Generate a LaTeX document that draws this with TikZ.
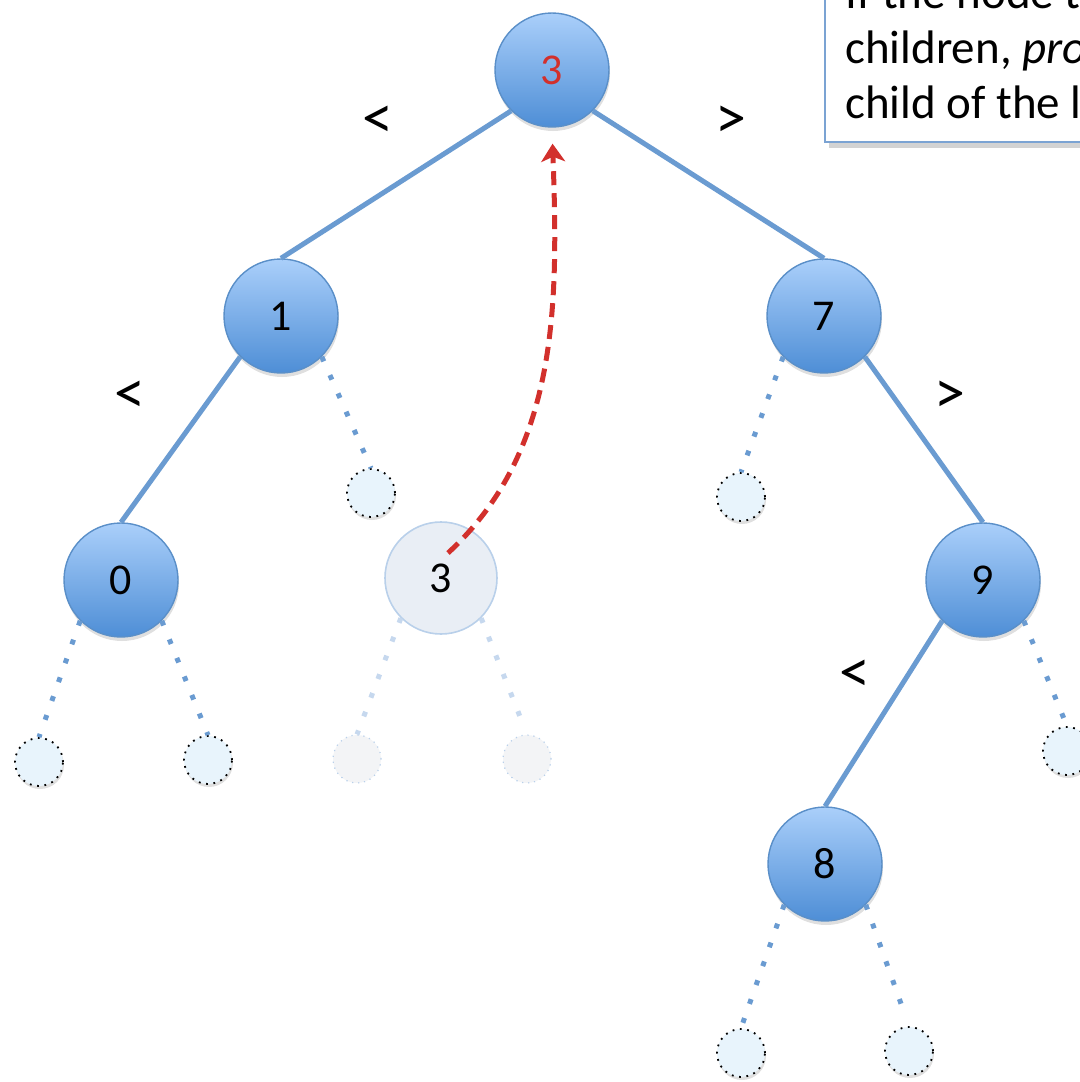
\documentclass[tikz,border=0pt]{standalone}
\usepackage{fontspec}
\setmainfont{Carlito}
\usetikzlibrary{arrows.meta,shadows}
\definecolor{keyline}{HTML}{5A8FC8}
\definecolor{keytop}{HTML}{AACFFA}
\definecolor{keybot}{HTML}{4E8ED6}
\definecolor{branchblue}{HTML}{6A9BD1}
\definecolor{leaffill}{HTML}{E8F4FC}
\definecolor{ghostfill}{HTML}{E9EEF5}
\definecolor{ghostline}{HTML}{B9D0EA}
\definecolor{ghostbranch}{HTML}{C6D8EE}
\definecolor{ghostleaffill}{HTML}{F3F4F6}
\definecolor{moved}{HTML}{D2302C}
\definecolor{noteline}{HTML}{7BA3D3}
\begin{document}
\begin{tikzpicture}[x=0.5pt,y=-0.5pt,
    every node/.style={font=\fontsize{22}{26}\selectfont},
    key/.style={circle,draw=keyline,line width=0.7pt,minimum size=57pt,inner sep=0pt,
      top color=keytop,bottom color=keybot,
      drop shadow={shadow xshift=0.5pt,shadow yshift=-2pt,opacity=0.25}},
    ghost/.style={circle,draw=ghostline,line width=0.8pt,minimum size=56pt,inner sep=0pt,fill=ghostfill},
    leaf/.style={circle,draw=black,line width=0.9pt,dash pattern=on 0.9pt off 2.8pt,
      minimum size=24pt,inner sep=0pt,fill=leaffill,
      drop shadow={shadow xshift=0.5pt,shadow yshift=-1.5pt,opacity=0.25}},
    ghostleaf/.style={circle,draw=ghostline,line width=0.6pt,dash pattern=on 0.6pt off 2.4pt,
      minimum size=24pt,inner sep=0pt,fill=ghostleaffill},
    branch/.style={draw=branchblue,line width=2.5pt},
    nil/.style={draw=branchblue,line width=2.5pt,dash pattern=on 2.5pt off 7.5pt},
    ghostnil/.style={nil,draw=ghostbranch},
    cmp/.style={font=\fontsize{31}{34}\selectfont},
    move/.style={draw=moved,line width=2.5pt,dash pattern=on 7pt off 4pt,
      -{Stealth[length=9pt,width=12pt,inset=2.5pt]},shorten >=8pt},
    note/.style={draw=noteline,line width=1pt,fill=white,minimum width=200pt,minimum height=120pt,
      drop shadow={shadow xshift=2pt,shadow yshift=-3pt,opacity=0.35}},
    say/.style={anchor=base west,inner sep=0pt,font=\fontsize{23.5}{27}\selectfont}]
  \useasboundingbox (0,0) rectangle (1080,1082);
  \clip (0,0) rectangle (1080,1082);

  % the tree
  \draw (552,70) node[key](r){\textcolor{moved}{3}};
  \draw (281,316) node[key](n1){1};
  \draw (824,316) node[key](n7){7};
  \draw (121,580) node[key](n0){0};
  \draw (441,578) node[ghost](g3){3};
  \draw (983,580) node[key](n9){9};
  \draw (825,864) node[key](n8){8};

  % empty children
  \draw (371,493) node[leaf](e1){};
  \draw (741,497) node[leaf](e7){};
  \draw (39,762) node[leaf](e0a){};
  \draw (208,760) node[leaf](e0b){};
  \draw (357,759) node[ghostleaf](eg3a){};
  \draw (527,759) node[ghostleaf](eg3b){};
  \draw (1067,751) node[leaf](e9){};
  \draw (741,1053) node[leaf](e8a){};
  \draw (909,1051) node[leaf](e8b){};

  \draw[branch]
    (r.south west) -- (n1.north)
    (r.south east) -- (n7.north)
    (n1.south west) -- (n0.north)
    (n7.south east) -- (n9.north)
    (n9.south west) -- (n8.north)
  ;
  \draw[nil,shorten >=5pt]
    (n1.south east) -- (e1.north)
    (n7.south west) -- (e7.north)
    (n0.south west) -- (e0a.north)
    (n0.south east) -- (e0b.north)
    (n9.south east) -- (e9.north)
    (n8.south west) -- (e8a.north)
    (n8.south east) -- (e8b.north)
  ;
  \draw[ghostnil,shorten >=5pt]
    (g3.south west) -- (eg3a.north)
    (g3.south east) -- (eg3b.north)
  ;

  % comparisons
  \draw (378,122) node[cmp](lt1){<};
  \draw (731,122) node[cmp](gt1){>};
  \draw (130,397) node[cmp](lt2){<};
  \draw (950,397) node[cmp](gt2){>};
  \draw (855,676) node[cmp](lt3){<};

  % promoted key
  \coordinate (lift) at (448,553);
  \draw[move] (lift) .. controls (560,450) and (558,300) .. (r.south);

  % remark
  \draw (824,143) node[note,anchor=south west](remark){};
  \draw (845,8) node[say](say1){If the node t};
  \draw (845,63) node[say](say2){children, \textit{pro}};
  \draw (845,118) node[say](say3){child of the l};
\end{tikzpicture}
\end{document}
